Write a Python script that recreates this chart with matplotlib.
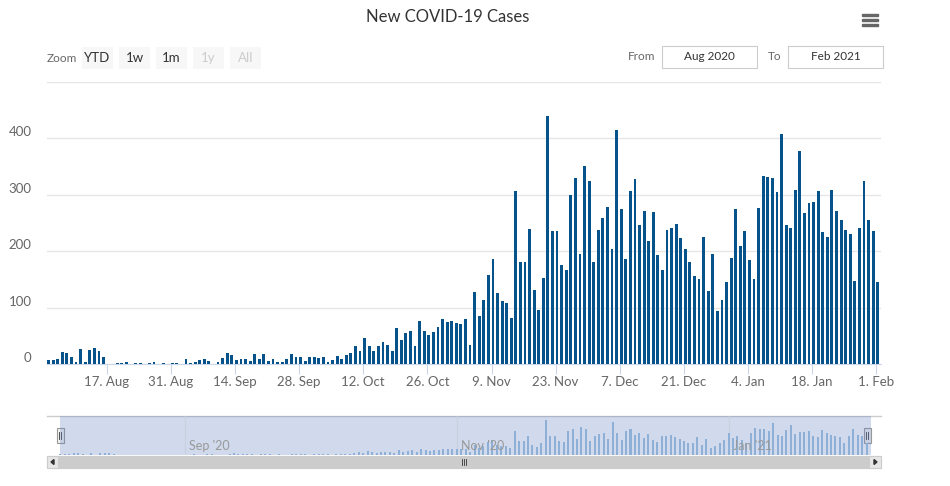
import matplotlib
matplotlib.use("Agg")
import matplotlib.pyplot as plt
import matplotlib.dates as mdates
from matplotlib.patches import Rectangle, Polygon
from matplotlib.ticker import FuncFormatter
import pandas as pd

plt.rcParams['font.family'] = ['Lato', 'DejaVu Sans']

# daily new cases, 4 Aug 2020 .. 1 Feb 2021
start_date = '2020-08-04'
cases_aug = [8, 8, 9, 22, 20, 13, 4, 27, 4, 25, 29, 24, 13,
             0, 0, 2, 2, 4, 0, 2, 2, 0, 2, 4, 0, 2, 0, 2]
cases_sep = [2, 0, 9, 2, 4, 8, 9, 6, 0, 4, 11, 20, 17, 8, 9, 9, 6, 18, 9, 18,
             6, 9, 4, 4, 9, 18, 13, 13, 6, 13]
cases_oct = [13, 11, 13, 4, 8, 15, 9, 17, 20, 32, 24, 47, 32, 24, 32, 40, 34, 24,
             64, 43, 55, 59, 32, 77, 59, 52, 57, 66, 80, 75, 77]
cases_nov = [73, 71, 80, 34, 128, 85, 114, 158, 186, 126, 112, 108, 82, 306, 181,
             181, 239, 131, 96, 152, 439, 235, 235, 175, 166, 299, 329, 196, 350, 324]
cases_dec = [181, 237, 258, 278, 204, 415, 274, 186, 306, 327, 246, 271, 218, 269,
             193, 166, 237, 242, 249, 223, 204, 181, 156, 151, 226, 129, 195, 94,
             114, 145, 188]
cases_jan = [274, 209, 235, 184, 151, 276, 334, 332, 329, 304, 408, 246, 242, 309,
             378, 267, 285, 288, 306, 234, 225, 309, 272, 256, 237, 230, 147, 242,
             325, 256, 235]
cases_feb = [145]

cases = cases_aug + cases_sep + cases_oct + cases_nov + cases_dec + cases_jan + cases_feb
dates = pd.date_range(start_date, periods=len(cases), freq='D')

x_ticks = pd.date_range('2020-08-17', '2021-02-01', freq='14D')
y_ticks = [0, 100, 200, 300, 400, 500]
nav_months = pd.to_datetime(['2020-09-01', '2020-11-01', '2021-01-01'])
nav_labels = ["Sep '20", "Nov '20", "Jan '21"]
range_buttons = ['YTD', '1w', '1m', '1y', 'All']
disabled_buttons = ['1y', 'All']

BAR = '#06528a'
GRID = '#e6e6e6'
AXIS = '#ccd6eb'
LABEL = '#666666'

W, H = 950, 486
fig = plt.figure(figsize=(W / 100, H / 100), dpi=100)

# overlay for the toolbar / scrollbar widgets, in pixel coords
ui = fig.add_axes([0, 0, 1, 1], zorder=0)
ui.set_xlim(0, W)
ui.set_ylim(H, 0)
ui.axis('off')

L, R = 47, 881
ax = fig.add_axes([L / W, (H - 364.3) / H, (R - L) / W, (364.3 - 81.7) / H], zorder=1)
ax.patch.set_alpha(0)
ax.bar(mdates.date2num(dates), cases, width=0.62, align='edge', color=BAR, zorder=3)
x0 = mdates.date2num(pd.Timestamp('2020-08-17')) - (106.7 - L) / 4.581
x1 = mdates.date2num(pd.Timestamp('2020-08-17')) + (R - 106.7) / 4.581
ax.set_xlim(x0, x1)
ax.set_ylim(0, 500)
ax.set_yticks(y_ticks)
ax.set_yticklabels([str(v) if v < 500 else '' for v in y_ticks])
ax.set_xticks(mdates.date2num(x_ticks))
ax.xaxis.set_major_formatter(FuncFormatter(
    lambda v, p: f"{mdates.num2date(v).day}. {mdates.num2date(v):%b}"))
ax.grid(axis='y', color=GRID, lw=1, zorder=0)
for s in ['top', 'right', 'left']:
    ax.spines[s].set_visible(False)
ax.spines['bottom'].set_color(AXIS)
ax.tick_params(axis='x', length=7.2, color=AXIS, pad=1, labelsize=9.5, labelcolor=LABEL)
ax.tick_params(axis='y', length=0, pad=11, labelsize=9.5, labelcolor=LABEL)
for t in ax.get_yticklabels():
    t.set_va('bottom')

# navigator
nav = fig.add_axes([L / W, (H - 455) / H, (R - L) / W, 39 / H], zorder=1)
nav.patch.set_alpha(0)
sep1 = mdates.date2num(pd.Timestamp('2020-09-01'))
nav.set_xlim(sep1 - (185 - L) / 4.455, sep1 + (R - 185) / 4.455)
nav.set_ylim(0, 490)
nav.axvspan(x0, x1, color=(102 / 255, 133 / 255, 194 / 255, 0.3), lw=0, zorder=0)
nav.bar(mdates.date2num(dates), cases, width=0.45, color='#8fb0d6', zorder=2)
for m, lab in zip(nav_months, nav_labels):
    mx = mdates.date2num(m)
    nav.axvline(mx, color='#c8cfdd', lw=0.8, zorder=1)
    nav.annotate(lab, (mx, 0.23), xycoords=('data', 'axes fraction'),
                 xytext=(3, 0), textcoords='offset points', va='center',
                 fontsize=9, color='#999999', zorder=3)
nav.axis('off')
ui.plot([L, R], [416, 416], color='#cccccc', lw=1)

# navigator handles
for hx in (60, 867):
    ui.add_patch(Rectangle((hx - 3.5, 428), 7, 15, facecolor='#f2f2f2',
                           edgecolor='#999999', lw=0.8, zorder=5))
    ui.plot([hx - 1, hx - 1], [432, 439], color='#333333', lw=0.6, zorder=6)
    ui.plot([hx + 1, hx + 1], [432, 439], color='#333333', lw=0.6, zorder=6)

# scrollbar
ui.add_patch(Rectangle((L, 456), R - L, 12, facecolor='#f2f2f2', edgecolor='#cccccc', lw=0.8))
ui.add_patch(Rectangle((58, 456), 811, 12, facecolor='#cccccc', edgecolor='#cccccc', lw=0.8))
for gx in (462, 464, 466):
    ui.plot([gx, gx], [459, 465], color='#333333', lw=0.6)
ui.add_patch(Rectangle((L, 456), 11, 12, facecolor='#e6e6e6', edgecolor='#cccccc', lw=0.8))
ui.add_patch(Rectangle((R - 12, 456), 12, 12, facecolor='#e6e6e6', edgecolor='#cccccc', lw=0.8))
ui.add_patch(Polygon([[54, 459.5], [54, 464.5], [51, 462]], color='#333333'))
ui.add_patch(Polygon([[874, 459.5], [874, 464.5], [877, 462]], color='#333333'))

# title and export menu
ui.text(448, 17, 'New COVID-19 Cases', ha='center', va='center', fontsize=12, color='#333333')
for hy in (15, 20, 25):
    ui.add_patch(Rectangle((862, hy - 1.3), 16, 2.6, color='#666666'))

# range selector
ui.text(47, 58, 'Zoom', ha='left', va='center', fontsize=8.5, color='#666666')
bx = 82
for b in range_buttons:
    ui.add_patch(Rectangle((bx, 47), 31, 22, facecolor='#f7f7f7', edgecolor='none'))
    ui.text(bx + 15.5, 58, b, ha='center', va='center', fontsize=9.5,
            color='#cccccc' if b in disabled_buttons else '#333333')
    bx += 37

ui.text(628, 57, 'From', ha='left', va='center', fontsize=8.5, color='#666666')
ui.add_patch(Rectangle((662, 46), 95, 22, facecolor='white', edgecolor='#cccccc', lw=0.8))
ui.text(709.5, 57, 'Aug 2020', ha='center', va='center', fontsize=8.5, color='#333333')
ui.text(768, 57, 'To', ha='left', va='center', fontsize=8.5, color='#666666')
ui.add_patch(Rectangle((788, 46), 95, 22, facecolor='white', edgecolor='#cccccc', lw=0.8))
ui.text(835.5, 57, 'Feb 2021', ha='center', va='center', fontsize=8.5, color='#333333')

fig.savefig('out.png', dpi=100)
